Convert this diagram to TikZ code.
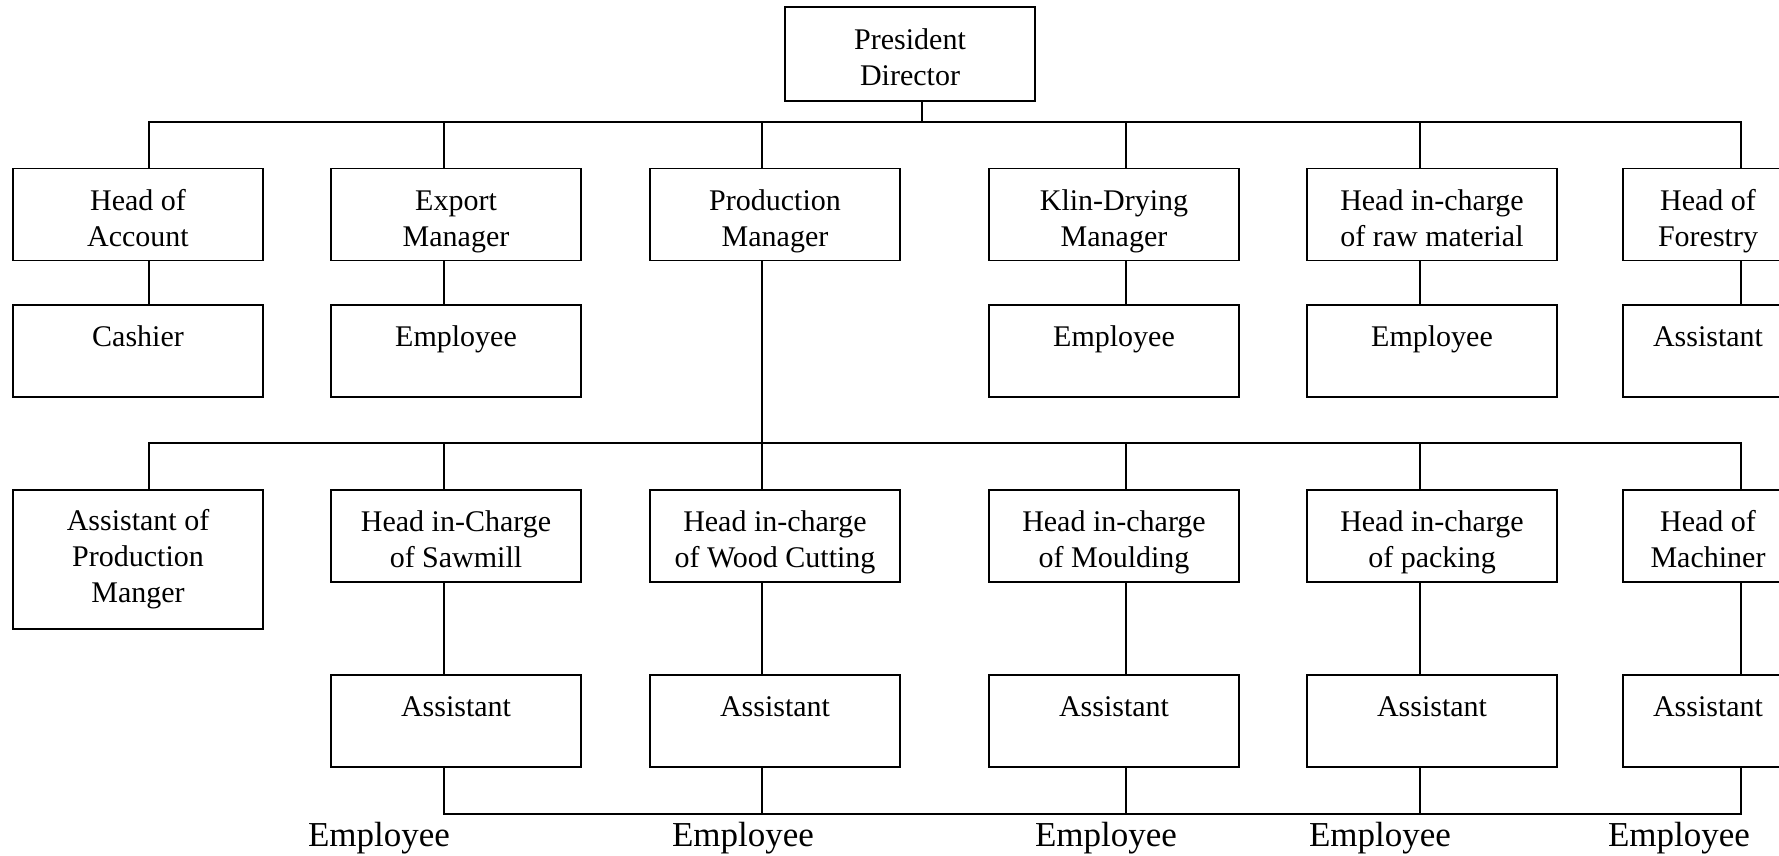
\documentclass[tikz,border=0pt]{standalone}
\usepackage{fontspec}
\setmainfont{Liberation Serif}
\newcommand{\twoline}[2]{\rule{0pt}{35pt}#1\\#2\rule[-8pt]{0pt}{8pt}}
\newcommand{\threeline}[3]{\rule{0pt}{35pt}#1\\#2\\#3\rule[-22pt]{0pt}{22pt}}

\tikzset{
  post/.style={draw, line width=1.7pt, minimum width=250pt, minimum height=92pt,
    inner sep=0pt, align=center, font=\fontsize{30}{36}\selectfont},
  narrow/.style={post, minimum width=170pt},
  staff/.style={font=\fontsize{35}{42}\selectfont, inner sep=0pt, anchor=base},
  link/.style={line width=1.7pt}
}

\begin{document}
\begin{tikzpicture}[x=1pt, y=-1pt]

   \useasboundingbox (0,0) rectangle (1779,855);
   \fill[white] (0,0) rectangle (1779,855);
   \clip (0,0) rectangle (1779,855);

   \node[post, minimum height=94pt] (pd) at (910,54) {\twoline{President}{Director}};

   % first level
   \node[post] (acc) at (138,214.5) {\twoline{Head of}{Account}};
   \node[post] (exp) at (456,214.5) {\twoline{Export}{Manager}};
   \node[post] (prod) at (775,214.5) {\twoline{Production}{Manager}};
   \node[post] (kiln) at (1114,214.5) {\twoline{Klin-Drying}{Manager}};
   \node[post] (raw) at (1432,214.5) {\twoline{Head in-charge}{of raw material}};
   \node[narrow] (fore) at (1708,214.5) {\twoline{Head of}{Forestry}};

   \node[post] (cash) at (138,351) {\twoline{Cashier}{}};
   \node[post] (expemp) at (456,351) {\twoline{Employee}{}};
   \node[post] (kilnemp) at (1114,351) {\twoline{Employee}{}};
   \node[post] (rawemp) at (1432,351) {\twoline{Employee}{}};
   \node[narrow] (foreast) at (1708,351) {\twoline{Assistant}{}};

   % production level
   \node[post, minimum height=139pt] (asspm) at (138,559.5) {\threeline{Assistant of}{Production}{Manger}};
   \node[post] (saw) at (456,536) {\twoline{Head in-Charge}{of Sawmill}};
   \node[post] (wood) at (775,536) {\twoline{Head in-charge}{of Wood Cutting}};
   \node[post] (mould) at (1114,536) {\twoline{Head in-charge}{of Moulding}};
   \node[post] (pack) at (1432,536) {\twoline{Head in-charge}{of packing}};
   \node[narrow] (mach) at (1708,536) {\twoline{Head of}{Machiner}};

   \node[post] (sawast) at (456,721) {\twoline{Assistant}{}};
   \node[post] (woodast) at (775,721) {\twoline{Assistant}{}};
   \node[post] (mouldast) at (1114,721) {\twoline{Assistant}{}};
   \node[post] (packast) at (1432,721) {\twoline{Assistant}{}};
   \node[narrow] (machast) at (1708,721) {\twoline{Assistant}{}};

   \node[staff] (emp1) at (379,846) {Employee};
   \node[staff] (emp2) at (743,846) {Employee};
   \node[staff] (emp3) at (1106,846) {Employee};
   \node[staff] (emp4) at (1380,846) {Employee};
   \node[staff] (emp5) at (1679,846) {Employee};

   % bus points
   \coordinate (a0) at (922,122);
   \coordinate (a1) at (149,122);
   \coordinate (a2) at (444,122);
   \coordinate (a3) at (762,122);
   \coordinate (a4) at (1126,122);
   \coordinate (a5) at (1420,122);
   \coordinate (a6) at (1741,122);
   \coordinate (b1) at (149,443);
   \coordinate (b2) at (444,443);
   \coordinate (b3) at (762,443);
   \coordinate (b4) at (1126,443);
   \coordinate (b5) at (1420,443);
   \coordinate (b6) at (1741,443);
   \coordinate (c2) at (444,814);
   \coordinate (c3) at (762,814);
   \coordinate (c4) at (1126,814);
   \coordinate (c5) at (1420,814);
   \coordinate (c6) at (1741,814);

   \draw[link] (a0 |- pd.south) -- (a0);
   \draw[link] (a1 |- acc.north) -- (a1) -- (a6) -- (a6 |- fore.north);
   \draw[link] (a2) -- (a2 |- exp.north);
   \draw[link] (a3) -- (a3 |- prod.north);
   \draw[link] (a4) -- (a4 |- kiln.north);
   \draw[link] (a5) -- (a5 |- raw.north);

   \draw[link] (a1 |- acc.south) -- (a1 |- cash.north);
   \draw[link] (a2 |- exp.south) -- (a2 |- expemp.north);
   \draw[link] (a4 |- kiln.south) -- (a4 |- kilnemp.north);
   \draw[link] (a5 |- raw.south) -- (a5 |- rawemp.north);
   \draw[link] (a6 |- fore.south) -- (a6 |- foreast.north);

   \draw[link] (a3 |- prod.south) -- (a3 |- wood.north);
   \draw[link] (b1 |- asspm.north) -- (b1) -- (b6) -- (b6 |- mach.north);
   \draw[link] (b2) -- (b2 |- saw.north);
   \draw[link] (b4) -- (b4 |- mould.north);
   \draw[link] (b5) -- (b5 |- pack.north);

   \draw[link] (b2 |- saw.south) -- (b2 |- sawast.north);
   \draw[link] (b3 |- wood.south) -- (b3 |- woodast.north);
   \draw[link] (b4 |- mould.south) -- (b4 |- mouldast.north);
   \draw[link] (b5 |- pack.south) -- (b5 |- packast.north);
   \draw[link] (b6 |- mach.south) -- (b6 |- machast.north);

   \draw[link] (c2 |- sawast.south) -- (c2) -- (c6) -- (c6 |- machast.south);
   \draw[link] (c3 |- woodast.south) -- (c3);
   \draw[link] (c4 |- mouldast.south) -- (c4);
   \draw[link] (c5 |- packast.south) -- (c5);

\end{tikzpicture}
\end{document}
